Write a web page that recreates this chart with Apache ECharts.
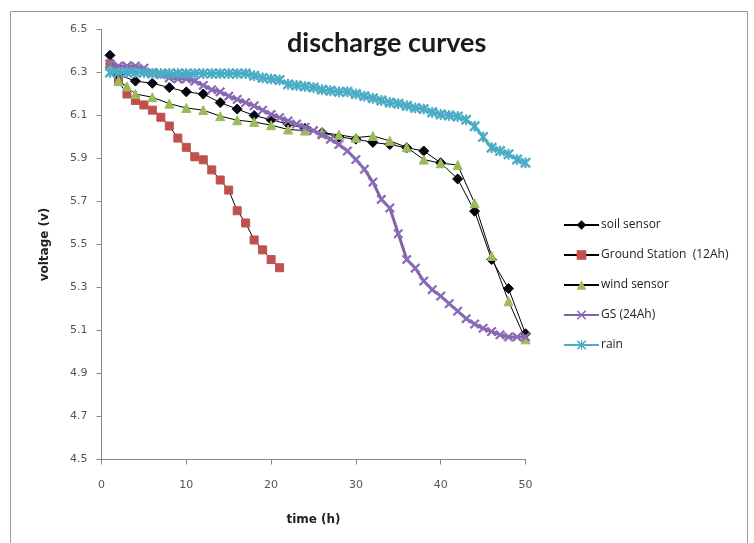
<!DOCTYPE html>
<html>
<head>
<meta charset="utf-8">
<script src="https://cdn.jsdelivr.net/npm/echarts@6/dist/echarts.min.js"></script>
<style>
html,body{margin:0;padding:0;background:#fff;}
#chart{width:754px;height:543px;}
</style>
</head>
<body>
<div id="chart"></div>
<script>
var soilX = [1,2,4,6,8,10,12,14,16,18,20,22,24,26,28,30,32,34,36,38,40,42,44,46,48,50];
var soilY = [6.38,6.29,6.26,6.25,6.23,6.21,6.20,6.16,6.13,6.10,6.08,6.06,6.04,6.02,6.00,5.99,5.975,5.965,5.95,5.935,5.88,5.805,5.655,5.43,5.295,5.085];

var groundX = [1,2,3,4,5,6,7,8,9,10,11,12,13,14,15,16,17,18,19,20,21];
var groundY = [6.34,6.26,6.20,6.17,6.149,6.125,6.092,6.051,5.995,5.952,5.908,5.894,5.847,5.80,5.753,5.657,5.60,5.521,5.475,5.43,5.392];

var windX = [1,2,3,4,6,8,10,12,14,16,18,20,22,24,26,28,30,32,34,36,38,40,42,44,46,48,50];
var windY = [6.33,6.26,6.235,6.20,6.185,6.155,6.135,6.125,6.097,6.078,6.07,6.055,6.035,6.03,6.02,6.01,5.997,6.005,5.982,5.952,5.895,5.878,5.87,5.692,5.447,5.236,5.059];

var gsX = [1,2,3,4,5,6,7,8,9,10,11,12,13,14,15,16,17,18,19,20,21,22,23,24,25,26,27,28,29,30,31,32,33,34,35,36,37,38,39,40,41,42,43,44,45,46,47,48,49,50];
var gsY = [6.34,6.33,6.33,6.33,6.32,6.30,6.29,6.275,6.27,6.27,6.26,6.24,6.22,6.21,6.19,6.175,6.16,6.145,6.125,6.105,6.09,6.075,6.06,6.045,6.03,6.01,5.99,5.965,5.935,5.895,5.85,5.79,5.71,5.67,5.55,5.43,5.39,5.33,5.29,5.26,5.225,5.19,5.155,5.13,5.11,5.095,5.08,5.07,5.07,5.07];

var rainX = [1,2,3,4,5,6,7,8,9,10,11,12,13,14,15,16,17,18,19,20,21,22,23,24,25,26,27,28,29,30,31,32,33,34,35,36,37,38,39,40,41,42,43,44,45,46,47,48,49,50];
var rainY = [6.30,6.30,6.30,6.30,6.30,6.295,6.295,6.295,6.295,6.295,6.295,6.295,6.295,6.295,6.295,6.295,6.295,6.285,6.275,6.27,6.265,6.245,6.24,6.235,6.23,6.22,6.215,6.21,6.21,6.20,6.19,6.18,6.17,6.16,6.155,6.145,6.135,6.13,6.115,6.105,6.10,6.095,6.08,6.05,6.00,5.95,5.935,5.92,5.895,5.88];

var seriesNames = ['soil sensor','Ground Station  (12Ah)','wind sensor','GS (24Ah)','rain'];
var xTicks = [0,10,20,30,40,50];
var yTicks = [4.5,4.7,4.9,5.1,5.3,5.5,5.7,5.9,6.1,6.3,6.5];

function pairs(xs, ys){ return xs.map(function(x,i){ return [x, ys[i]]; }); }

var xSym = 'path://M0,1.2 L1.2,0 L10,8.8 L8.8,10 Z M8.8,0 L10,1.2 L1.2,10 L0,8.8 Z';
var starSym = 'path://M0,1.2 L1.2,0 L10,8.8 L8.8,10 Z M8.8,0 L10,1.2 L1.2,10 L0,8.8 Z M4.4,0 L5.6,0 L5.6,10 L4.4,10 Z';

var chart = echarts.init(document.getElementById('chart'), null, {renderer:'canvas'});
chart.setOption({
  animation:false,
  backgroundColor:'#ffffff',
  graphic:[{type:'rect', shape:{x:10.5,y:11.5,width:737,height:545}, style:{fill:'none', stroke:'#9a9a9a', lineWidth:1}, silent:true}],
  title:{
    text:'discharge curves', left:282, top:25,
    textStyle:{fontFamily:'Lato', fontWeight:'bold', fontSize:27, color:'#1a1a1a'}
  },
  legend:{
    orient:'vertical', left:558, top:214, itemWidth:35, itemHeight:12, itemGap:18,
    data:seriesNames,
    textStyle:{fontFamily:'Open Sans', fontSize:12, color:'#222', padding:[0,0,0,-3]}
  },
  grid:{left:101.5, right:228.5, top:29.5, bottom:83.5, containLabel:false},
  xAxis:{
    type:'value', min:0, max:50, interval:10,
    name:'time (h)', nameLocation:'middle', nameGap:54,
    nameTextStyle:{fontFamily:'DejaVu Sans', fontWeight:'bold', fontSize:12, color:'#222'},
    axisLine:{show:true, onZero:false, lineStyle:{color:'#868686', width:1}},
    axisTick:{show:true, inside:false, length:5, lineStyle:{color:'#868686'}},
    axisLabel:{margin:20, fontFamily:'DejaVu Sans', fontSize:11, color:'#555',
      customValues: xTicks},
    splitLine:{show:false}
  },
  yAxis:{
    type:'value', min:4.5, max:6.5, interval:0.2,
    name:'voltage (v)', nameLocation:'middle', nameGap:51, nameRotate:90,
    nameTextStyle:{fontFamily:'DejaVu Sans', fontWeight:'bold', fontSize:12, color:'#222'},
    axisLine:{show:true, lineStyle:{color:'#868686', width:1}},
    axisTick:{show:true, inside:false, length:5, lineStyle:{color:'#868686'}, customValues: yTicks},
    axisLabel:{margin:14, fontFamily:'DejaVu Sans', fontSize:11, color:'#555',
      customValues: yTicks,
      formatter:function(v){ return v.toFixed(1); }},
    splitLine:{show:false}
  },
  series:[
    {name:seriesNames[0], type:'line', data:pairs(soilX, soilY), symbol:'diamond', symbolSize:10,
     itemStyle:{color:'#050510', borderColor:'#050510'}, lineStyle:{color:'#000', width:1}, z:2},
    {name:seriesNames[1], type:'line', data:pairs(groundX, groundY), symbol:'rect', symbolSize:8,
     itemStyle:{color:'#c0504d', borderColor:'#c0504d'}, lineStyle:{color:'#000', width:1}, z:3},
    {name:seriesNames[2], type:'line', data:pairs(windX, windY), symbol:'triangle', symbolSize:9,
     itemStyle:{color:'#9bbb59', borderColor:'#9bbb59'}, lineStyle:{color:'#000', width:1}, z:4},
    {name:seriesNames[3], type:'line', data:pairs(gsX, gsY), symbol:xSym, symbolSize:9,
     itemStyle:{color:'#8c6bb8', borderColor:'#8c6bb8'}, lineStyle:{color:'#8064a2', width:3}, z:5},
    {name:seriesNames[4], type:'line', data:pairs(rainX, rainY), symbol:starSym, symbolSize:10,
     itemStyle:{color:'#4bacc6', borderColor:'#4bacc6'}, lineStyle:{color:'#4bacc6', width:3}, z:6}
  ]
});
</script>
</body>
</html>
